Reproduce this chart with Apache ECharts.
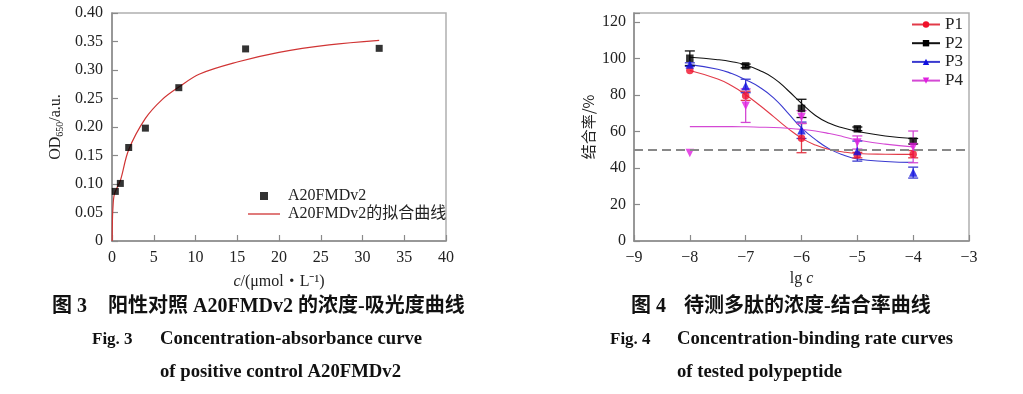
<!DOCTYPE html>
<html><head><meta charset="utf-8">
<script src="https://cdn.jsdelivr.net/npm/echarts@6/dist/echarts.min.js"></script>
<style>html,body{margin:0;padding:0;background:#fff}#c{width:1023px;height:394px}</style>
</head><body><div id="c"></div>
<script>
// ---- Fig. 3 data ----
const concX = [0.4, 1, 2, 4, 8, 16, 32];
const odY = [0.087, 0.101, 0.164, 0.198, 0.269, 0.337, 0.338];
const fitConc = [0.02, 0.05, 0.1, 0.3, 1, 2, 4, 6, 8, 10.5, 15, 20, 26, 32];
const fitOD = [0, 0.035, 0.055, 0.083, 0.106, 0.160, 0.215, 0.248, 0.270, 0.293, 0.314, 0.331, 0.344, 0.352];
// ---- Fig. 4 data ----
const lgC = [-8, -7, -6, -5, -4];
const p1 = [93.5, 79.6, 56.4, 47.1, 47.6];
const p2 = [100.2, 96.0, 72.7, 61.5, 54.7];
const p3 = [96.7, 85.0, 60.7, 49.3, 37.5];
const p4 = [48.2, 74.2, 68.0, 54.0, 51.6];
const p1Err = [0, 2.5, 8, 1.5, 2];
const p2Err = [4, 1, 5, 1, 1.5];
const p3Err = [1, 3.7, 4.5, 5.5, 3];
const p4Err = [0, 9.2, 3.5, 3.6, 8.7];
const fitLg = [-8, -7.5, -7.25, -7, -6.75, -6.5, -6.25, -6, -5.75, -5.5, -5.25, -5, -4.5, -4];
const p1Fit = [93.5, 88.8, 85.1, 80.2, 74.4, 68.2, 61.9, 56.4, 52.6, 50.2, 48.8, 48.0, 47.6, 47.5];
const p2Fit = [100.7, 99.4, 98.3, 96.5, 93.5, 89.3, 82.8, 75.5, 68.8, 64.5, 61.9, 60.1, 57.6, 56.2];
const p3Fit = [96.7, 94.2, 91.8, 88.4, 84.3, 78.5, 70.4, 62.0, 55.6, 50.5, 47.1, 45.0, 43.6, 43.1];
const p4Fit = [62.7, 62.7, 62.7, 62.6, 62.4, 62.2, 61.8, 61.2, 60.3, 58.9, 57.2, 55.4, 53.1, 51.6];
const refLine = 50;
const seriesNames = ['P1', 'P2', 'P3', 'P4'];

const SERIF = '"Liberation Serif","Noto Sans CJK SC",serif';
const txt = {fontFamily: SERIF, fontSize: 16, color: '#222'};
const axisCol = '#8a8a8a';

function zip(a, b) { return a.map((v, i) => [v, b[i]]); }
function errData(v, e) { return lgC.map((x, i) => [x, v[i] - e[i], v[i] + e[i]]).filter((d, i) => e[i] > 0); }

function errSeries(data, color) {
  return {
    type: 'custom', xAxisIndex: 1, yAxisIndex: 1, z: 3, silent: true,
    data: data,
    renderItem: function (params, api) {
      const x = api.value(0);
      const lo = api.coord([x, api.value(1)]);
      const hi = api.coord([x, api.value(2)]);
      const w = 5;
      const st = {stroke: color, lineWidth: 1.3};
      return {type: 'group', children: [
        {type: 'line', shape: {x1: lo[0], y1: lo[1], x2: hi[0], y2: hi[1]}, style: st},
        {type: 'line', shape: {x1: lo[0] - w, y1: lo[1], x2: lo[0] + w, y2: lo[1]}, style: st},
        {type: 'line', shape: {x1: hi[0] - w, y1: hi[1], x2: hi[0] + w, y2: hi[1]}, style: st}
      ]};
    }
  };
}

const lineCols = ['#e23a48', '#111111', '#3a3ad0', '#d448d4'];
const markCols = ['#f0102a', '#000000', '#1010e0', '#e020e0'];
const symbols = ['circle', 'rect', 'triangle', 'path://M0,0L2,0L1,1.75Z'];
const symSizes = [7.5, 7.5, 8.5, 8.5];
const pts = [p1, p2, p3, p4];
const errs = [p1Err, p2Err, p3Err, p4Err];
const fits = [p1Fit, p2Fit, p3Fit, p4Fit];

const series = [
  {type: 'line', name: 'A20FMDv2的拟合曲线', xAxisIndex: 0, yAxisIndex: 0, data: zip(fitConc, fitOD),
   smooth: 0.35, showSymbol: false, symbol: 'none',
   lineStyle: {color: '#d03434', width: 1.2}, itemStyle: {color: '#d03434'}, z: 2},
  {type: 'scatter', name: 'A20FMDv2', xAxisIndex: 0, yAxisIndex: 0, data: zip(concX, odY),
   symbol: 'rect', symbolSize: 7, itemStyle: {color: '#000'}, z: 4}
];
for (let k = 0; k < 4; k++) {
  series.push({type: 'line', name: seriesNames[k], xAxisIndex: 1, yAxisIndex: 1, data: zip(fitLg, fits[k]),
    smooth: 0.5, showSymbol: false, symbol: symbols[k], symbolSize: symSizes[k],
    lineStyle: {color: lineCols[k], width: 1.1}, itemStyle: {color: markCols[k]}, z: 2,
    markLine: k === 0 ? {silent: true, symbol: 'none', label: {show: false},
      lineStyle: {color: '#888', type: [9, 5], width: 2}, data: [{yAxis: refLine}]} : undefined});
  series.push(errSeries(errData(pts[k], errs[k]), lineCols[k]));
  series.push({type: 'scatter', name: seriesNames[k] + ' data', xAxisIndex: 1, yAxisIndex: 1,
    data: zip(lgC, pts[k]), symbol: symbols[k], symbolSize: symSizes[k],
    itemStyle: {color: markCols[k]}, z: 4});
}

const axCommon = {
  axisLine: {show: true, lineStyle: {color: axisCol, width: 1.5}},
  axisTick: {show: true, inside: true, length: 6, lineStyle: {color: axisCol, width: 1.2}},
  splitLine: {show: false},
  axisLabel: Object.assign({}, txt)
};

const capTop = {fontFamily: '"Liberation Serif","Noto Sans CJK SC",serif', fontSize: 20, fontWeight: 'bold', fill: '#111'};
const capFig = {fontFamily: '"Liberation Serif",serif', fontSize: 17, fontWeight: 'bold', fill: '#111'};
const capEn = {fontFamily: '"Liberation Serif",serif', fontSize: 18.7, fontWeight: 'bold', fill: '#111'};
function T(x, y, s, st) { return {type: 'text', left: x, top: y, style: Object.assign({text: s}, st)}; }

const option = {
  animation: false,
  backgroundColor: '#fff',
  grid: [
    {left: 112, right: 577, top: 13, bottom: 153, show: true, borderColor: '#b0b0b0', borderWidth: 1.5},
    {left: 634, right: 54, top: 13, bottom: 153, show: true, borderColor: '#b0b0b0', borderWidth: 1.5}
  ],
  xAxis: [
    Object.assign({}, axCommon, {gridIndex: 0, type: 'value', min: 0, max: 40, interval: 5,
      name: '{i|c}/(μmol・L⁻¹)', nameLocation: 'middle', nameGap: 33,
      nameTextStyle: Object.assign({}, txt, {rich: {i: Object.assign({}, txt, {fontStyle: 'italic'})}}),
      axisLabel: Object.assign({}, txt, {margin: 9})}),
    Object.assign({}, axCommon, {gridIndex: 1, type: 'value', min: -9, max: -3, interval: 1,
      name: 'lg {i|c}', nameLocation: 'middle', nameGap: 30,
      nameTextStyle: Object.assign({}, txt, {rich: {i: Object.assign({}, txt, {fontStyle: 'italic'})}}),
      axisLabel: Object.assign({}, txt, {margin: 9, formatter: v => String(v).replace('-', '−')})})
  ],
  yAxis: [
    Object.assign({}, axCommon, {gridIndex: 0, type: 'value', min: 0, max: 0.4, interval: 0.05,
      name: 'OD{s|650}/a.u.', nameLocation: 'middle', nameGap: 47, nameRotate: 90,
      nameTextStyle: Object.assign({}, txt, {rich: {s: Object.assign({}, txt, {fontSize: 10, padding: [8, 0, 0, 0]})}}),
      axisLabel: Object.assign({}, txt, {margin: 9, formatter: v => v === 0 ? '0' : v.toFixed(2)})}),
    Object.assign({}, axCommon, {gridIndex: 1, type: 'value', min: 0, max: 125, interval: 20,
      name: '结合率/%', nameLocation: 'middle', nameGap: 38, nameRotate: 90,
      nameTextStyle: Object.assign({}, txt, {fontFamily: '"Noto Sans CJK SC","Liberation Serif",sans-serif', fontSize: 15}),
      axisLabel: Object.assign({}, txt, {margin: 8, formatter: v => (v % 20 === 0 ? String(v) : '')})})
  ],
  legend: [
    {show: true, orient: 'vertical', left: 260, top: 188, padding: 0, itemWidth: 8, itemHeight: 8,
     data: [{name: 'A20FMDv2', icon: 'rect'}], textStyle: Object.assign({}, txt, {padding: [0, 0, 0, 15]}),
     selectedMode: false},
    {show: true, orient: 'vertical', left: 248, top: 206, padding: 0, itemWidth: 32, itemHeight: 8,
     data: [{name: 'A20FMDv2的拟合曲线', icon: 'path://M0,0L32,0L32,1.3L0,1.3Z'}],
     textStyle: Object.assign({}, txt, {padding: [0, 0, 0, 3]}), selectedMode: false},
    {show: true, orient: 'vertical', left: 911, top: 16, padding: 0, itemWidth: 28, itemHeight: 8, itemGap: 1.7,
     data: seriesNames, textStyle: Object.assign({}, txt, {fontSize: 17}), selectedMode: false}
  ],
  graphic: [
    T(52, 297, '图 3', capTop),
    T(108, 297, '阳性对照 A20FMDv2 的浓度-吸光度曲线', capTop),
    T(92, 331, 'Fig. 3', capFig),
    T(160, 330, 'Concentration-absorbance curve', capEn),
    T(160, 363, 'of positive control A20FMDv2', capEn),
    T(631, 297, '图 4', capTop),
    T(684, 297, '待测多肽的浓度-结合率曲线', capTop),
    T(610, 331, 'Fig. 4', capFig),
    T(677, 330, 'Concentration-binding rate curves', capEn),
    T(677, 363, 'of tested polypeptide', capEn)
  ],
  series: series
};
const chart = echarts.init(document.getElementById('c'), null, {renderer: 'canvas'});
chart.setOption(option);
</script></body></html>
